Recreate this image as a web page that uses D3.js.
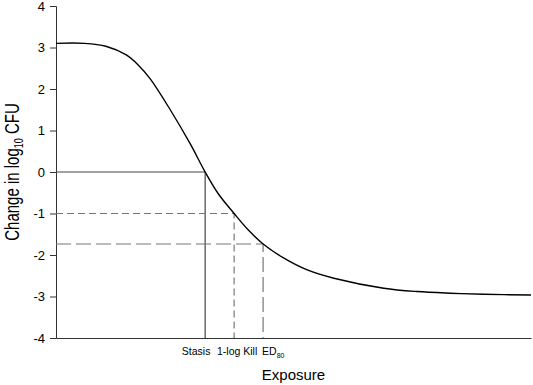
<!DOCTYPE html>
<html>
<head>
<meta charset="utf-8">
<script src="https://cdn.jsdelivr.net/npm/d3@7"></script>
<style>
  body { margin: 0; background: #fff; }
  text { font-family: "Liberation Sans", Arial, sans-serif; }
</style>
</head>
<body>
<div id="chart"></div>
<script>
// Curve (exposure in arbitrary units)
const exposure = [0, 6, 10.5, 14.8, 17.3, 19.8, 24.05, 28.3, 31.4, 34.2, 37.5,
  40.5, 43.6, 47.9, 52.9, 58.5, 69, 76, 83, 90, 100];
const change = [3.1, 3.1, 3.03, 2.82, 2.58, 2.25, 1.50, 0.67, 0.0, -0.53, -1.0,
  -1.40, -1.735, -2.07, -2.36, -2.56, -2.80, -2.88, -2.92, -2.945, -2.965];

// Reference points
const refLabels = ["Stasis", "1-log Kill", "ED"];
const refX = [31.4, 37.5, 43.6];
const refY = [0, -1, -1.735];

const yTicks = [-4, -3, -2, -1, 0, 1, 2, 3, 4];

// Margin convention
const margin = { top: 6, right: 2, bottom: 47, left: 56 };
const width = 533 - margin.left - margin.right;
const height = 385 - margin.top - margin.bottom;

const svg = d3.select("#chart")
  .append("svg")
  .attr("width", 533)
  .attr("height", 385)
  .append("g")
  .attr("transform", "translate(" + margin.left + "," + margin.top + ")");

const x = d3.scaleLinear().domain([0, 100]).range([0, width]);
const y = d3.scaleLinear().domain([-4, 4]).range([height, 0]);

// Y axis
const yAxis = svg.append("g")
  .call(d3.axisLeft(y).tickValues(yTicks).tickSize(6).tickPadding(5).tickFormat((d) => String(d)));
yAxis.select(".domain").attr("stroke", "#333");
yAxis.selectAll(".tick line").attr("stroke", "#333");
yAxis.selectAll("text")
  .style("font-size", "13px")
  .attr("fill", "#000");

// X axis (line only)
const xAxis = svg.append("g")
  .attr("transform", "translate(0," + height + ")")
  .call(d3.axisBottom(x).tickValues([]).tickSizeOuter(0));
xAxis.select(".domain").attr("stroke", "#333");

// Reference lines
const dashes = [null, "7,4", "15,5"];
const refColors = ["#444", "#777", "#777"];
refX.forEach(function (rx, i) {
  svg.append("path")
    .attr("d", "M" + x(0) + "," + y(refY[i]) + "H" + x(rx) + "V" + y(-4))
    .attr("fill", "none")
    .attr("stroke", refColors[i])
    .attr("stroke-width", 1.2)
    .attr("stroke-dasharray", dashes[i]);
});

// Curve
const line = d3.line()
  .x((d, i) => x(exposure[i]))
  .y((d) => y(d))
  .curve(d3.curveCatmullRom.alpha(0.5));

svg.append("path")
  .datum(change)
  .attr("d", line)
  .attr("fill", "none")
  .attr("stroke", "#000")
  .attr("stroke-width", 1.4);

// Reference labels under the x axis
const labelDx = [-9, 3, -1];
const labelAnchor = ["middle", "middle", "start"];
const refText = svg.append("g")
  .selectAll("text")
  .data(refLabels)
  .join("text")
  .attr("x", (d, i) => x(refX[i]) + labelDx[i])
  .attr("y", height + 17)
  .attr("text-anchor", (d, i) => labelAnchor[i])
  .style("font-size", "10.5px")
  .text((d) => d);
refText.filter((d, i) => i == 2)
  .append("tspan")
  .attr("dy", 3)
  .style("font-size", "7px")
  .text("80");

// Axis titles
svg.append("text")
  .attr("x", width / 2)
  .attr("y", height + 42)
  .attr("text-anchor", "middle")
  .style("font-size", "15px")
  .text("Exposure");

// y title is taller than it is long in the original, so stretch it a bit
const yTitle = svg.append("text")
  .attr("transform", "translate(" + (-margin.left + 19) + "," + (height / 2) + ") rotate(-90) scale(1,1.35)")
  .attr("text-anchor", "middle")
  .style("font-size", "15px");
yTitle.append("tspan").text("Change in log");
yTitle.append("tspan").attr("dy", 3).style("font-size", "9px").text("10");
yTitle.append("tspan").attr("dy", -3).text(" CFU");
</script>
</body>
</html>
